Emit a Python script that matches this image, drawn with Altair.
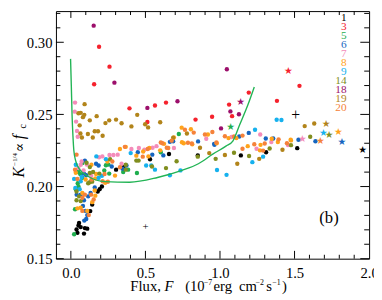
import altair as alt
import pandas as pd

FONT = "Liberation Serif, Times New Roman, DejaVu Serif, serif"

series = ["1", "3", "5", "6", "7", "8", "9", "14", "18", "19", "20"]
colors = ["#000000", "#f5222d", "#1fae4f", "#1565c0", "#f48cba", "#ffa31a",
          "#16b1ee", "#808e1f", "#9c0f6b", "#b2841a", "#f5823a"]

x_1 = [0.851, 1.14, 1.309, 0.658, 0.531, 0.303, 0.353, 1.518, 0.208, 0.193, 0.18,
       0.143, 0.13, 0.055, 0.051, 0.066, 0.038, 0.094, 0.11, 0.044, 0.088]
y_1 = [0.2216, 0.2216, 0.2238, 0.2226, 0.2189, 0.2117, 0.2135, 0.2266, 0.2000, 0.1982, 0.1966,
       0.1876, 0.1830, 0.1748, 0.1730, 0.1719, 0.1703, 0.1712, 0.1708, 0.1679, 0.1674]
x_3 = [0.189, 0.259, 0.156, 0.393, 0.513, 0.564, 0.638, 1.193, 1.061, 1.081, 1.382, 0.836, 0.947, 1.533]
y_3 = [0.2969, 0.2831, 0.2709, 0.2542, 0.2447, 0.2562, 0.2582, 0.2651, 0.2568, 0.2488, 0.2594, 0.2464, 0.2484, 0.2698]
x_5 = [0.724, 0.603, 0.384, 0.443, 0.022, 0.077, 0.235, 0.252, 0.351, 0.051, 0.064, 0.257,
       0.224, 0.077, 0.046, 0.051, 0.033, 0.028]
y_5 = [0.2364, 0.2238, 0.2117, 0.2094, 0.1669, 0.2163, 0.2148, 0.2152, 0.2101, 0.2101, 0.2086, 0.2090,
       0.2112, 0.2061, 0.2023, 0.2000, 0.1982, 0.1843]
x_6 = [0.853, 0.961, 0.963, 1.129, 1.193, 1.307, 1.357, 1.526, 1.64, 0.449, 0.546, 0.62, 0.664, 0.686,
       0.169, 0.186, 0.274, 0.373, 0.347, 0.088, 0.103, 0.16, 0.132, 0.116, 0.039, 0.066, 0.088,
       0.081, 0.099, 0.11, 0.103, 0.09, 0.094]
y_6 = [0.2313, 0.2296, 0.2290, 0.2347, 0.2372, 0.2333, 0.2333, 0.2324, 0.2314, 0.2238, 0.2221, 0.2216, 0.2310, 0.2314,
       0.2158, 0.2146, 0.2139, 0.2146, 0.2124, 0.2090, 0.2078, 0.1993, 0.1955, 0.1932, 0.1944, 0.1944, 0.1905,
       0.1865, 0.1831, 0.1802, 0.1775, 0.1764, 0.2180]
x_7 = [0.028, 0.026, 0.035, 0.041, 0.046, 0.406, 0.456, 0.493, 0.548, 0.574, 0.691, 0.908, 1.27, 1.245,
       1.344, 1.077, 1.456, 0.285, 0.259, 0.314, 0.189, 0.211, 0.072, 0.066, 0.107, 0.05, 0.085, 0.34, 0.136]
y_7 = [0.2582, 0.2519, 0.2450, 0.2385, 0.2345, 0.2260, 0.2267, 0.2255, 0.2269, 0.2280, 0.2267, 0.2331, 0.2361, 0.2262,
       0.2309, 0.2343, 0.2288, 0.2219, 0.2219, 0.2221, 0.2203, 0.2209, 0.2174, 0.2151, 0.2153, 0.2128, 0.2112, 0.2158, 0.2074]
x_8 = [0.743, 0.805, 0.757, 0.814, 0.919, 0.978, 1.057, 1.11, 0.368, 0.526, 0.625, 0.745, 0.599, 0.439,
       0.52, 1.186, 1.272, 1.268, 1.388, 0.485, 0.691, 1.474, 1.347, 1.476,
       0.329, 0.245, 0.138, 0.033, 0.169, 0.296, 0.099, 0.164, 0.23, 0.16, 0.164, 0.143, 0.077, 0.066, 0.044, 0.11]
y_8 = [0.2408, 0.2397, 0.2300, 0.2293, 0.2361, 0.2300, 0.2336, 0.2336, 0.2275, 0.2267, 0.2296, 0.2307, 0.2251, 0.2214,
       0.2209, 0.2280, 0.2289, 0.2251, 0.2309, 0.2243, 0.2340, 0.2324, 0.2331, 0.2320,
       0.2260, 0.2174, 0.2151, 0.2096, 0.2087, 0.2076, 0.2049, 0.2057, 0.2026, 0.1973, 0.1937, 0.1892, 0.1955, 0.1853, 0.1849, 0.1831]
x_20 = [0.765, 0.824, 0.785, 0.899, 0.949, 1.033, 1.094, 1.151, 0.515, 0.603, 0.643, 0.811, 0.653, 0.482,
        1.151, 1.23, 1.3, 1.289, 0.976, 0.676, 0.614, 1.449, 1.393,
        0.362, 0.038, 0.278, 0.329, 0.028, 0.226, 0.044, 0.138, 0.213, 0.248, 0.136, 0.153, 0.077, 0.094, 0.077, 0.12]
y_20 = [0.2394, 0.2374, 0.2304, 0.2361, 0.2378, 0.2349, 0.2347, 0.2353, 0.2260, 0.2305, 0.2269, 0.2298, 0.2267, 0.2207,
        0.2262, 0.2293, 0.2298, 0.2249, 0.2305, 0.2318, 0.2300, 0.2300, 0.2327,
        0.2275, 0.2221, 0.2174, 0.2134, 0.2117, 0.2087, 0.2053, 0.2049, 0.2037, 0.2033, 0.1944, 0.1910, 0.1922, 0.1944, 0.1831, 0.1802]
x_9 = [0.98, 1.044, 1.217, 1.289, 0.401, 0.505, 0.539, 0.564, 0.735, 0.664, 1.235, 1.38, 1.412,
       0.171, 0.235, 0.033, 0.022, 0.066, 0.072, 0.186, 0.208, 0.059, 0.03]
y_9 = [0.2115, 0.2081, 0.2169, 0.2207, 0.2232, 0.2146, 0.2146, 0.2117, 0.2112, 0.2078, 0.2394, 0.2463, 0.2461,
       0.2209, 0.2190, 0.2151, 0.2053, 0.2037, 0.2066, 0.2060, 0.2074, 0.1982, 0.1990]
x_14 = [0.851, 0.971, 1.094, 1.195, 1.333, 0.368, 0.439, 0.454, 0.544, 0.638, 0.709, 0.368, 1.605, 0.263,
        0.105, 0.127, 0.127, 0.149, 0.191, 0.116, 0.127, 0.143, 0.038, 0.055, 0.038, 0.066, 1.476]
y_14 = [0.2207, 0.2192, 0.2234, 0.2212, 0.2264, 0.2151, 0.2180, 0.2180, 0.2139, 0.2128, 0.2175, 0.2117, 0.2345, 0.2190,
        0.2165, 0.2135, 0.2094, 0.2101, 0.2090, 0.2023, 0.2030, 0.2034, 0.1966, 0.1932, 0.1905, 0.1899, 0.2287]
x_18 = [0.153, 0.292, 0.513, 0.715, 1.046, 1.07, 1.127, 1.007]
y_18 = [0.3115, 0.2720, 0.2545, 0.2591, 0.2813, 0.2521, 0.2501, 0.2403]
x_19 = [0.092, 0.051, 0.066, 0.09, 0.081, 0.127, 0.173, 0.059, 0.064, 0.074, 0.114, 0.16, 0.182, 0.147,
        0.213, 0.232, 0.257, 0.303, 0.34, 0.406, 0.445, 0.498, 0.518, 0.599, 0.778, 0.686, 0.866, 0.928,
        1.033, 1.116, 1.263, 1.419, 1.568, 1.632]
y_19 = [0.2571, 0.2508, 0.2511, 0.2497, 0.2481, 0.2459, 0.2488, 0.2424, 0.2368, 0.2340, 0.2364, 0.2383, 0.2383, 0.2340,
        0.2352, 0.2440, 0.2459, 0.2464, 0.2439, 0.2417, 0.2497, 0.2432, 0.2410, 0.2446, 0.2368, 0.2339, 0.2269, 0.2232,
        0.2219, 0.2158, 0.2192, 0.2255, 0.2419, 0.2437]

star_s = ["3", "18", "5", "19", "9", "14", "8", "6", "7", "20", "1"]
star_x = [1.458, 1.138, 1.072, 1.711, 1.693, 1.732, 1.794, 1.818, 1.553, 1.673, 1.956]
star_y = [0.2804, 0.2591, 0.2419, 0.2441, 0.2376, 0.2361, 0.2385, 0.2317, 0.2333, 0.2319, 0.2262]

big_cross_x = [1.507]
big_cross_y = [0.2494]
small_cross_x = [0.5]
small_cross_y = [0.1716]

curve_x = [-0.002, 0.003, 0.008, 0.014, 0.02, 0.032, 0.055, 0.12, 0.23, 0.395, 0.581, 0.745, 0.855,
           0.954, 1.04, 1.086, 1.132, 1.186, 1.23]
curve_y = [0.2885, 0.2700, 0.2500, 0.2350, 0.2250, 0.2180, 0.2124, 0.2068, 0.2034, 0.2030, 0.2063, 0.2112, 0.2158,
           0.2226, 0.2280, 0.2315, 0.2428, 0.2563, 0.2690]

x_major = [0.0, 0.5, 1.0, 1.5]
x_minor = [0.1, 0.2, 0.3, 0.4, 0.6, 0.7, 0.8, 0.9, 1.1, 1.2, 1.3, 1.4, 1.6, 1.7, 1.8, 1.9]
y_major = [0.15, 0.20, 0.25, 0.30]
y_minor = [0.16, 0.17, 0.18, 0.19, 0.21, 0.22, 0.23, 0.24, 0.26, 0.27, 0.28, 0.29, 0.31, 0.32]

W, H = 320, 253

xs_all = [x_1, x_3, x_5, x_6, x_7, x_8, x_9, x_14, x_18, x_19, x_20]
ys_all = [y_1, y_3, y_5, y_6, y_7, y_8, y_9, y_14, y_18, y_19, y_20]
pts = pd.DataFrame([(s, x, y) for s, xl, yl in zip(series, xs_all, ys_all) for x, y in zip(xl, yl)],
                   columns=["s", "x", "y"])
stars = pd.DataFrame({"s": star_s, "x": star_x, "y": star_y})
curve = pd.DataFrame({"x": curve_x, "y": curve_y})

xsc = alt.Scale(domain=[-0.1, 2.0], nice=False, zero=False)
ysc = alt.Scale(domain=[0.15, 0.3216], nice=False, zero=False)
X = alt.X("x:Q", scale=xsc, axis=alt.Axis(values=[0.0, 0.5, 1.0, 1.5, 2.0], format=".1f", title=None))
Y = alt.Y("y:Q", scale=ysc, axis=alt.Axis(values=y_major, format=".2f", title=None))
C = alt.Color("s:N", scale=alt.Scale(domain=series, range=colors), legend=None)

points = alt.Chart(pts).mark_circle(size=20, opacity=1).encode(x=X, y=Y, color=C)
curvel = alt.Chart(curve).mark_line(color="#22b455", strokeWidth=1.4, interpolate="monotone").encode(x=X, y=Y)
starl = alt.Chart(stars).mark_text(text="\u2605", font="DejaVu Sans", fontSize=10, baseline="middle",
                                   align="center", dy=1).encode(x=X, y=Y, color=C)
bigcross = alt.Chart(pd.DataFrame({"x": big_cross_x, "y": big_cross_y})).mark_text(
    text="+", font=FONT, fontSize=16, baseline="middle", align="center", color="black").encode(x=X, y=Y)
smallcross = alt.Chart(pd.DataFrame({"x": small_cross_x, "y": small_cross_y})).mark_text(
    text="+", font=FONT, fontSize=11, baseline="middle", align="center", color="black").encode(x=X, y=Y)

tk = dict(color="black", strokeWidth=1)
xmaj = pd.DataFrame({"x": x_major})
xmin = pd.DataFrame({"x": x_minor})
ymaj = pd.DataFrame({"y": y_major})
ymin = pd.DataFrame({"y": y_minor})
ticks = [
    alt.Chart(xmaj).mark_rule(**tk).encode(x=X, y=alt.value(H), y2=alt.value(H - 8)),
    alt.Chart(xmaj).mark_rule(**tk).encode(x=X, y=alt.value(0), y2=alt.value(7)),
    alt.Chart(xmin).mark_rule(**tk).encode(x=X, y=alt.value(H), y2=alt.value(H - 4)),
    alt.Chart(xmin).mark_rule(**tk).encode(x=X, y=alt.value(0), y2=alt.value(4)),
    alt.Chart(ymaj).mark_rule(**tk).encode(y=Y, x=alt.value(0), x2=alt.value(8)),
    alt.Chart(ymaj).mark_rule(**tk).encode(y=Y, x=alt.value(W), x2=alt.value(W - 9)),
    alt.Chart(ymin).mark_rule(**tk).encode(y=Y, x=alt.value(0), x2=alt.value(4.5)),
    alt.Chart(ymin).mark_rule(**tk).encode(y=Y, x=alt.value(W), x2=alt.value(W - 5)),
]

one = pd.DataFrame({"k": [0]})


def piece(text, px, py, size, color="black", style="normal", angle=0, align="left", baseline="alphabetic"):
    kw = dict(font=FONT, fontSize=size, align=align, baseline=baseline, color=color,
              fontStyle=style, text=text)
    if angle:
        kw["angle"] = angle
    return alt.Chart(one).mark_text(**kw).encode(x=alt.value(px), y=alt.value(py))


legend = [piece(s, 297, 7 + 9.2 * i, 11.5, color=c, align="right", baseline="middle")
          for i, (s, c) in enumerate(zip(series, colors))]

panel = piece("(b)", 279, 212, 17, align="center", baseline="middle")

# axis titles built from pieces (page position minus plot origin 57, 8)
TB, SB = 286, 280
titles = [
    piece("K", -33, 170, 16, style="italic", angle=270),
    piece("\u22121/4", -40, 158, 7, angle=270),
    piece("\u221d", -33, 144, 14, angle=270),
    piece("f", -33, 131, 16, style="italic", angle=270),
    piece("c", -31, 120, 10, angle=270),
    piece("Flux,", 76, TB, 15),
    piece("F", 111, TB, 15, style="italic"),
    piece("(10", 132, TB, 15),
    piece("\u22127", 151, SB, 8),
    piece("erg", 161, TB, 15),
    piece("cm", 187, TB, 15),
    piece("\u22122", 204, SB, 8),
    piece("s", 215, TB, 15),
    piece("\u22121", 221, SB, 8),
    piece(")", 231, TB, 15),
]

chart = alt.layer(*ticks, points, curvel, starl, bigcross, smallcross, *legend, panel, *titles).properties(
    width=W, height=H,
    autosize=alt.AutoSizeParams(type="none"),
    padding={"left": 49, "top": 0, "right": 5, "bottom": 37},
).configure_view(stroke="black", strokeWidth=1).configure_axis(
    ticks=False, domain=False, grid=False, labelFont=FONT, labelFontSize=15, labelColor="black"
).configure_axisX(labelPadding=7, labelFlush=False).configure_axisY(labelPadding=4)

chart.save("out.html", embed_options={"renderer": "svg", "actions": False})
